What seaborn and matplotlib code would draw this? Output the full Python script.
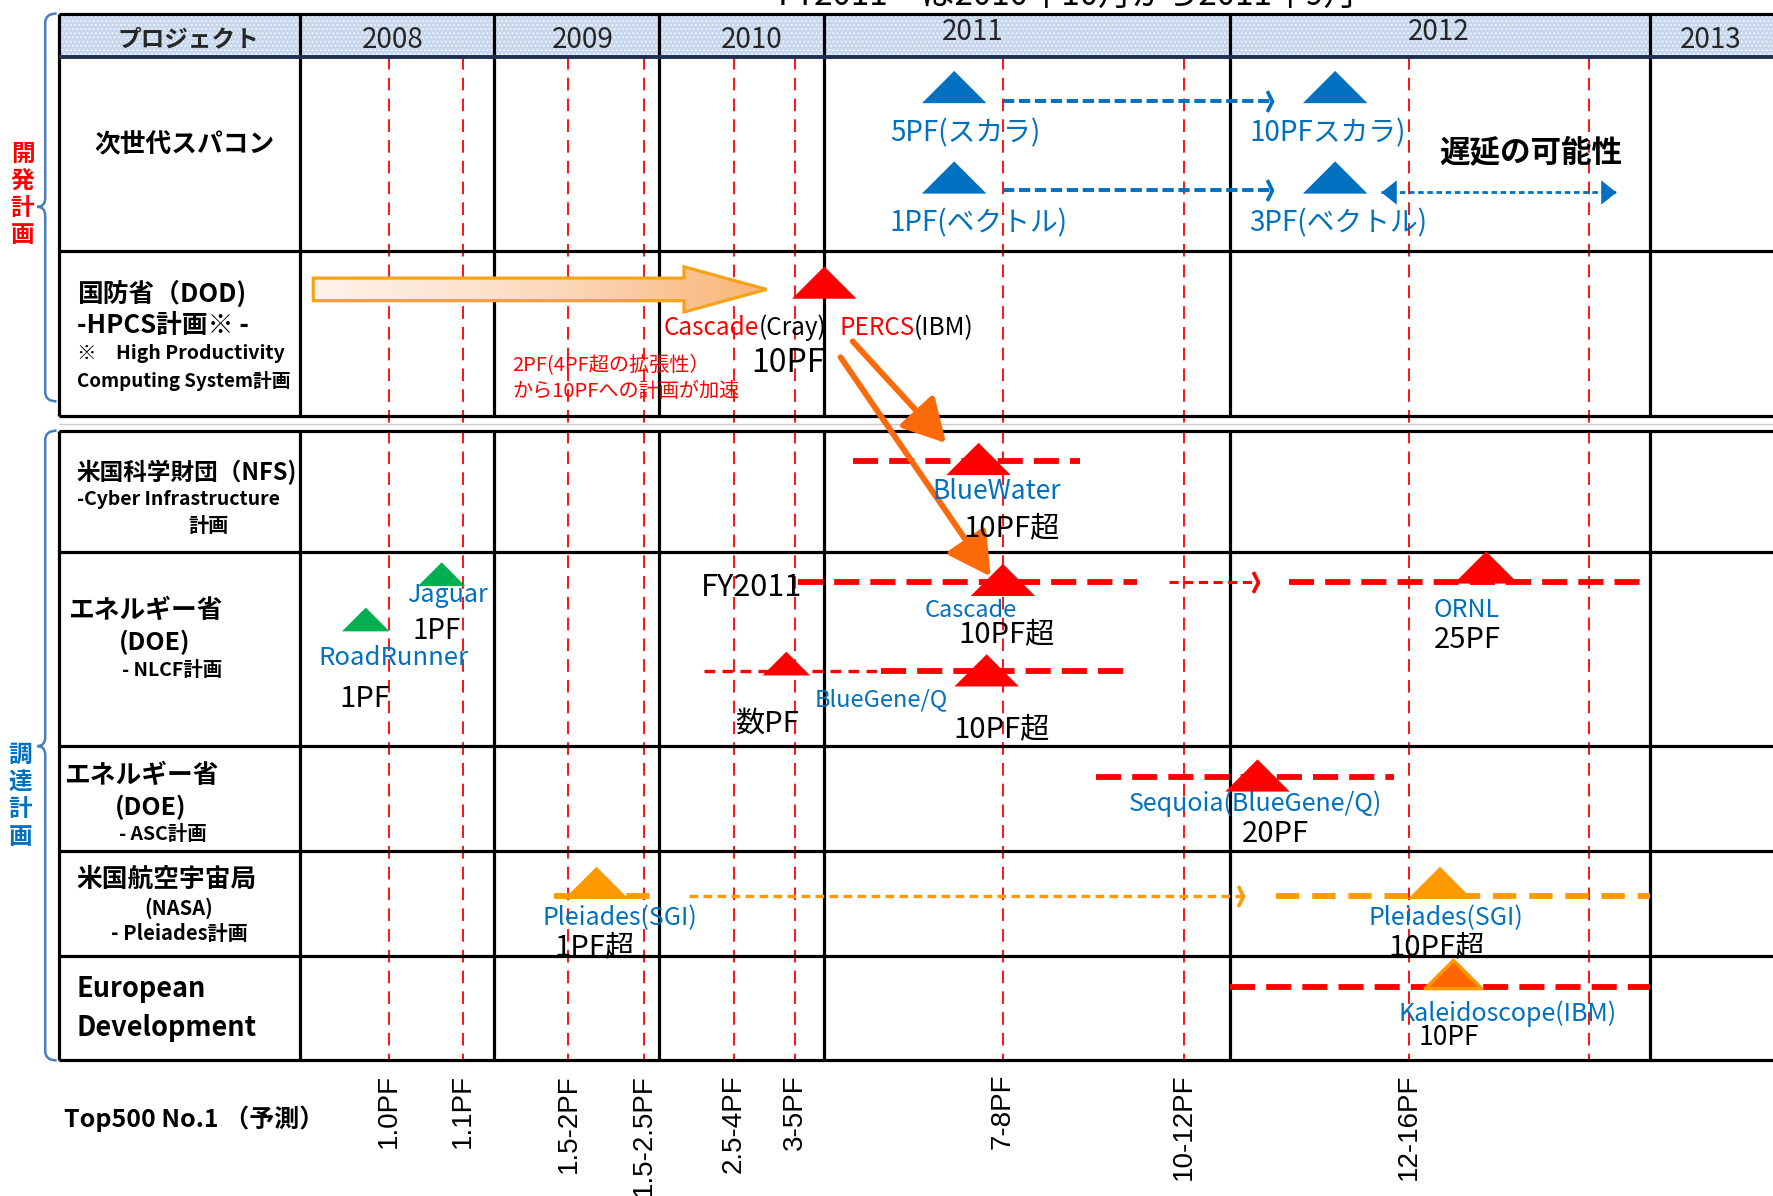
import numpy as np
import pandas as pd
import matplotlib
matplotlib.use("Agg")
import matplotlib.pyplot as plt
import seaborn as sns
from matplotlib.path import Path
from matplotlib.patches import Polygon, PathPatch
from matplotlib.colors import LinearSegmentedColormap
import matplotlib.transforms as mtransforms

# ---------------------------------------------------------------- data
years = [2008, 2009, 2010, 2011, 2012, 2013]
year_labels = ["2008", "2009", "2010", "2011", "2012", "2013"]

# Top500 No.1 forecast dates (June / November lists) and values
top500_times = [2008.46, 2008.84, 2009.45, 2009.91, 2010.45, 2010.82,
                2011.44, 2011.885, 2012.425, 2012.855]
top500_labels = ["1.0PF", "1.1PF", "1.5-2PF", "1.5-2.5PF", "2.5-4PF", "3-5PF",
                 "7-8PF", "10-12PF", "12-16PF", ""]

# milestones (triangles)
ms_system = ["5PF(スカラ)", "10PFスカラ", "1PF(ベクトル)", "3PF(ベクトル)",
             "Cascade/PERCS", "BlueWater", "Jaguar", "RoadRunner", "Cascade",
             "ORNL", "BlueGene/Q 数PF", "BlueGene/Q", "Sequoia",
             "Pleiades 1PF", "Pleiades 10PF", "Kaleidoscope"]
ms_time = [2011.32, 2012.25, 2011.32, 2012.25, 2011.0, 2011.38, 2008.73,
           2008.34, 2011.44, 2012.61, 2010.77, 2011.40, 2012.065, 2009.62,
           2012.50, 2012.53]
ms_lane = ["scalar", "scalar", "vector", "vector", "dod", "nfs", "jaguar",
           "roadrunner", "nlcf_a", "ornl", "nlcf_b_small", "nlcf_b", "asc",
           "nasa", "nasa", "euro"]
ms_color = ["blue", "blue", "blue", "blue", "red", "red", "green", "green",
            "red", "red", "red", "red", "red", "orange", "orange", "kaleido"]
ms_scale = ["major"] * 6 + ["minor", "minor", "major", "major", "minor"] + ["major"] * 5

# planned periods (dashed bars)
plan_start = [2011.07, 2010.84, 2012.14, 2010.27, 2011.14, 2011.67, 2009.36, 2012.11, 2012.0]
plan_end = [2011.63, 2011.77, 2013.0, 2011.14, 2011.755, 2012.39, 2010.0, 2013.0, 2013.0]
plan_lane = ["nfs_bar", "nlcf_a_bar", "nlcf_a_bar", "nlcf_b_bar", "nlcf_b_bar",
             "asc_bar", "nasa_bar", "nasa_bar", "euro_bar"]
plan_kind = ["red", "red", "red", "red_thin", "red", "red", "orange", "orange", "red"]

# delays (thin dashed arrows)
delay_start = [2011.44, 2011.44, 2011.85, 2010.18]
delay_end = [2012.10, 2012.10, 2012.065, 2012.03]
delay_lane = ["scalar_bar", "vector_bar", "nlcf_a_bar", "nasa_bar"]
delay_kind = ["blue", "blue", "red", "orange"]

# possible delay range (double arrow)
range_start, range_end = 2012.36, 2012.92

# HPCS acceleration arrow
hpcs_start, hpcs_head, hpcs_end = 2008.07, 2010.15, 2010.65

# links from PERCS to procurements
link_t0 = [2011.07, 2011.04]
link_t1 = [2011.30, 2011.41]
link_lane0 = ["percs_a", "percs_b"]
link_lane1 = ["nfs_link", "nlcf_link"]

# ---------------------------------------------------------------- layout
W, H = 1568.0, 1058.0
col_px = [213, 213, 172, 146, 146, 359, 371, 371]      # widths of label col & years
knot_t = np.arange(2006, 2015).astype(float)
knot_px = np.concatenate([[52 - 213], 52 + np.concatenate([[0], np.cumsum(col_px[1:])])])

def fwd(t):
    return np.interp(t, knot_t, knot_px)

def inv(p):
    return np.interp(p, knot_px, knot_t)

lane_y = {"scalar": 77, "scalar_bar": 89, "vector": 157, "vector_bar": 168,
          "vector_range": 170, "dod": 250, "hpcs": 256, "nfs": 406, "nfs_bar": 408,
          "jaguar": 508, "roadrunner": 548, "nlcf_a": 513, "nlcf_a_bar": 515,
          "ornl": 502, "nlcf_b_small": 587, "nlcf_b": 593, "nlcf_b_bar": 594,
          "asc": 686, "asc_bar": 687, "nasa": 781, "nasa_bar": 793,
          "euro": 862, "euro_bar": 873, "percs_a": 302, "percs_b": 316,
          "nfs_link": 392, "nlcf_link": 510}

BLUE = "#0070c0"
RED = "#ff0000"
ORANGE = "#ff9900"
DARKOR = "#ff6600"
LINKOR = "#fb6a0a"
GREEN = "#00b050"
BRACE = "#4a7ebb"
K = "black"

sns.set_theme(style="white")
FAM = ["Noto Sans CJK JP", "DejaVu Sans"]
plt.rcParams["font.family"] = FAM

fig = plt.figure(figsize=(17.73, 11.96), dpi=100)
ax = fig.add_axes([0, 0, 1, 1])

# ---------------------------------------------------------------- milestones via seaborn
tri = Path([(0, 0.5), (-1, -0.5), (1, -0.5), (0, 0.5)],
           [Path.MOVETO, Path.LINETO, Path.LINETO, Path.CLOSEPOLY])
palette = {"blue": BLUE, "red": RED, "green": GREEN, "orange": ORANGE}
size_map = {"major": (57 * 0.814) ** 2, "minor": (42 * 0.814) ** 2}

df = pd.DataFrame(dict(system=ms_system, time=ms_time, lane=ms_lane,
                       color=ms_color, scale=ms_scale))
df["y"] = df["lane"].map(lane_y)
main = df[df["color"] != "kaleido"]
sns.scatterplot(data=main, x="time", y="y", hue="color", palette=palette,
                size="scale", sizes=size_map, marker=tri, linewidth=0,
                legend=False, ax=ax, zorder=8)
kal = df[df["color"] == "kaleido"]
sns.scatterplot(data=kal, x="time", y="y", color=DARKOR, s=(50 * 0.814) ** 2,
                marker=tri, edgecolor=ORANGE, linewidth=2.5, legend=False,
                ax=ax, zorder=8)

ax.set_xscale("function", functions=(fwd, inv))
x_left, x_right = float(inv(0)), float(inv(W))

# ---------------------------------------------------------------- table
ax.fill_between([2007, x_right], 12, 50, facecolor="#c6d6ec", edgecolor="#eef3fa",
                hatch="....", linewidth=0, zorder=1)
LW = 2.3
for y0, y1 in [(12, 368), (381, 938)]:
    ax.vlines([2007] + years, y0, y1, colors=K, lw=LW, zorder=4)
ax.hlines([12, 222, 368, 381, 488, 660, 753, 846, 938], 2007, x_right,
          colors=K, lw=LW, zorder=4)
ax.hlines([50], 2007, x_right, colors="#1f3050", lw=2.8, zorder=4)
ax.hlines([375], 2007, x_right, colors="#c8c8c8", lw=1.0, zorder=2)

# Top500 dates
ax.vlines(top500_times, 50, 938, colors=RED, lw=1.3, linestyles=(0, (7, 4.5)), zorder=3)

# planned periods
plan_styles = {"red": dict(color=RED, lw=4.2, dashes=(4.3, 1.9)),
               "red_thin": dict(color=RED, lw=2.4, dashes=(3.2, 2.2)),
               "orange": dict(color=ORANGE, lw=4.2, dashes=(4.0, 2.2))}
for s, e, ln, kd in zip(plan_start, plan_end, plan_lane, plan_kind):
    ax.plot([s, e], [lane_y[ln]] * 2, solid_capstyle="butt", dash_capstyle="butt",
            zorder=6, **plan_styles[kd])

# delay arrows
chev = Path([(-0.5, 1), (0, 0), (-0.5, -1)], [Path.MOVETO, Path.LINETO, Path.LINETO])
delay_styles = {"blue": dict(color=BLUE, lw=2.8, dashes=(2.9, 1.2)),
                "red": dict(color=RED, lw=2.2, dashes=(3.0, 1.8)),
                "orange": dict(color=ORANGE, lw=2.4, dashes=(2.6, 1.6))}
for s, e, ln, kd in zip(delay_start, delay_end, delay_lane, delay_kind):
    st = delay_styles[kd]
    ax.plot([s, e], [lane_y[ln]] * 2, dash_capstyle="butt", zorder=6, **st)
    ax.plot([e], [lane_y[ln]], marker=chev, markersize=15, markeredgewidth=2.6,
            markerfacecolor="none", markeredgecolor=st["color"], zorder=6)

# double arrow
ax.plot([range_start, range_end], [lane_y["vector_range"]] * 2, color=BLUE, lw=2.0,
        dashes=(2.0, 1.3), zorder=6)
head_r = Path([(0, 0), (-1, 0.8), (-1, -0.8), (0, 0)],
              [Path.MOVETO, Path.LINETO, Path.LINETO, Path.CLOSEPOLY])
head_l = Path([(0, 0), (1, 0.8), (1, -0.8), (0, 0)],
              [Path.MOVETO, Path.LINETO, Path.LINETO, Path.CLOSEPOLY])
ax.plot([range_start], [lane_y["vector_range"]], marker=head_l, markersize=22,
        color=BLUE, markeredgewidth=0, zorder=6)
ax.plot([range_end], [lane_y["vector_range"]], marker=head_r, markersize=22,
        color=BLUE, markeredgewidth=0, zorder=6)

# HPCS gradient arrow
yc = lane_y["hpcs"]
verts = [(hpcs_start, yc - 10), (hpcs_head, yc - 10), (hpcs_head, yc - 20),
         (hpcs_end, yc), (hpcs_head, yc + 20), (hpcs_head, yc + 10),
         (hpcs_start, yc + 10)]
poly = Polygon(verts, closed=True, facecolor="none", edgecolor="#f6a31a",
               lw=2.3, zorder=5)
ax.add_patch(poly)
cmap = LinearSegmentedColormap.from_list("hp", ["#fff3ea", "#fcd9bb", "#f9b476"])
grad = np.linspace(0, 1, 256).reshape(1, -1)
im = ax.imshow(grad, extent=(hpcs_start, hpcs_end, yc + 20, yc - 20), aspect="auto",
               cmap=cmap, interpolation="bilinear", zorder=4.5)
im.set_clip_path(poly)

# links
for t0, t1, l0, l1 in zip(link_t0, link_t1, link_lane0, link_lane1):
    ax.annotate("", xy=(t1, lane_y[l1]), xytext=(t0, lane_y[l0]),
                arrowprops=dict(arrowstyle="-|>,head_length=1.0,head_width=0.55",
                                mutation_scale=26, color=LINKOR, lw=4.2,
                                shrinkA=0, shrinkB=0), zorder=9)

ax.set_xlim(x_left, x_right)
ax.set_ylim(H, 0)
ax.axis("off")

# ---------------------------------------------------------------- texts
def ftext(x, y, s, **kw):
    kw.setdefault("va", "center")
    kw.setdefault("ha", "left")
    return fig.text(x / W, 1 - y / H, s, **kw)

# title (cut at top edge)
ftext(688, 4, "FY2011　は2010年10月から2011年9月", va="baseline", size=24, color=K)

# header
ftext(167, 35, "プロジェクト", ha="center", size=17, weight="bold")
for lab, xp, yp in zip(year_labels, [347, 515, 665, 860, 1272, 1513],
                       [35, 35, 35, 28, 28, 35]):
    ftext(xp, yp, lab, ha="center", size=20)

# project row labels
row_lines = [
    (83, 128, "次世代スパコン", 18.5), (68, 260, "国防省（DOD)", 18.5),
    (68, 288, "-HPCS計画※ -", 18.5), (68, 313, "※　High Productivity", 14),
    (68, 337, "Computing System計画", 13.5), (68, 418, "米国科学財団（NFS)", 17),
    (68, 442, "-Cyber Infrastructure", 14), (167, 465, "計画", 14.5),
    (60, 540, "エネルギー省", 18.5), (105, 568, "(DOE)", 18),
    (108, 593, "- NLCF計画", 14), (57, 686, "エネルギー省", 18.5),
    (102, 714, "(DOE)", 18), (105, 738, "- ASC計画", 14),
    (68, 778, "米国航空宇宙局", 18.5), (128, 803, "(NASA)", 14.5),
    (98, 826, "- Pleiades計画", 14.5), (68, 875, "European", 19.5),
    (68, 909, "Development", 19.5),
]
for xp, yp, s, fs in row_lines:
    ftext(xp, yp, s, size=fs, weight="bold", color=K)

# group labels with braces
for ch, yp in zip("開発計画", [136, 160, 184, 208]):
    ftext(20, yp, ch, ha="center", size=17, weight="bold", color=RED)
for ch, yp in zip("調達計画", [668, 692, 716, 740]):
    ftext(18, yp, ch, ha="center", size=17, weight="bold", color=BLUE)

ptrans = mtransforms.Affine2D().scale(1 / W, -1 / H).translate(0, 1) + fig.transFigure
def brace(y0, ym, y1):
    xo, xi, xt = 50, 40, 33
    v = [(xo, y0), (xi, y0), (xi, y0 + 8), (xi, ym - 8), (xi, ym), (xt, ym),
         (xi, ym), (xi, ym + 8), (xi, y1 - 8), (xi, y1), (xo, y1)]
    c = [Path.MOVETO, Path.CURVE3, Path.CURVE3, Path.LINETO, Path.CURVE3, Path.CURVE3,
         Path.CURVE3, Path.CURVE3, Path.LINETO, Path.CURVE3, Path.CURVE3]
    fig.add_artist(PathPatch(Path(v, c), transform=ptrans, fill=False,
                             edgecolor=BRACE, lw=1.8))
brace(12, 183, 355)
brace(381, 660, 938)

# milestone labels
labels = [
    (787, 118, "5PF(スカラ)", BLUE, 20, "normal"),
    (1105, 118, "10PFスカラ)", BLUE, 20, "normal"),
    (787, 198, "1PF(ベクトル)", BLUE, 20, "normal"),
    (1105, 198, "3PF(ベクトル)", BLUE, 20, "normal"),
    (1273, 135, "遅延の可能性", K, 22, "bold"),
    (664, 321, "10PF", K, 23, "normal"),
    (453, 323, "2PF(4PF超の拡張性）", RED, 14.5, "normal"),
    (453, 346, "から10PFへの計画が加速", RED, 14.5, "normal"),
    (825, 435, "BlueWater", BLUE, 19, "normal"),
    (852, 467, "10PF超", K, 21, "normal"),
    (360, 526, "Jaguar", BLUE, 18, "normal"),
    (365, 558, "1PF", K, 20, "normal"),
    (282, 582, "RoadRunner", BLUE, 18.5, "normal"),
    (300, 618, "1PF", K, 21, "normal"),
    (620, 520, "FY2011", K, 22, "normal"),
    (818, 540, "Cascade", BLUE, 17, "normal"),
    (848, 561, "10PF超", K, 21, "normal"),
    (1268, 540, "ORNL", BLUE, 18, "normal"),
    (1268, 566, "25PF", K, 21, "normal"),
    (650, 640, "数PF", K, 21, "normal"),
    (720, 619, "BlueGene/Q", BLUE, 17, "normal"),
    (843, 645, "10PF超", K, 21, "normal"),
    (998, 711, "Sequoia(BlueGene/Q)", BLUE, 18, "normal"),
    (1098, 738, "20PF", K, 21, "normal"),
    (480, 812, "Pleiades(SGI)", BLUE, 18, "normal"),
    (490, 838, "1PF超", K, 21, "normal"),
    (1210, 812, "Pleiades(SGI)", BLUE, 18, "normal"),
    (1228, 838, "10PF超", K, 21, "normal"),
    (1237, 897, "Kaleidoscope(IBM)", BLUE, 18, "normal"),
    (1255, 918, "10PF", K, 19, "normal"),
]
for xp, yp, s, fs, in [(0, 0, "", 0)][:0]:
    pass
for xp, yp, s, c, fs, wt in labels:
    ftext(xp, yp, s, color=c, size=fs, weight=wt)

# two-colour vendor labels
for xp, s1, s2 in [(587, "Cascade", "(Cray)"), (742, "PERCS", "(IBM)")]:
    t1 = ftext(xp, 296, s1, color=RED, size=17.5, va="baseline")
    ax.annotate(s2, xy=(1, 0), xycoords=t1, va="bottom", ha="left",
                color=K, size=17.5)

# Top500 forecast row
ftext(57, 990, "Top500 No.1 （予測）", size=18, weight="bold", color=K)
for t, lab in zip(top500_times, top500_labels):
    if lab:
        ax.text(t, 950, lab, rotation=90, ha="center", va="top", size=20,
                family=["Liberation Sans", "DejaVu Sans"], color=K)

fig.savefig("out.png", dpi=100)
